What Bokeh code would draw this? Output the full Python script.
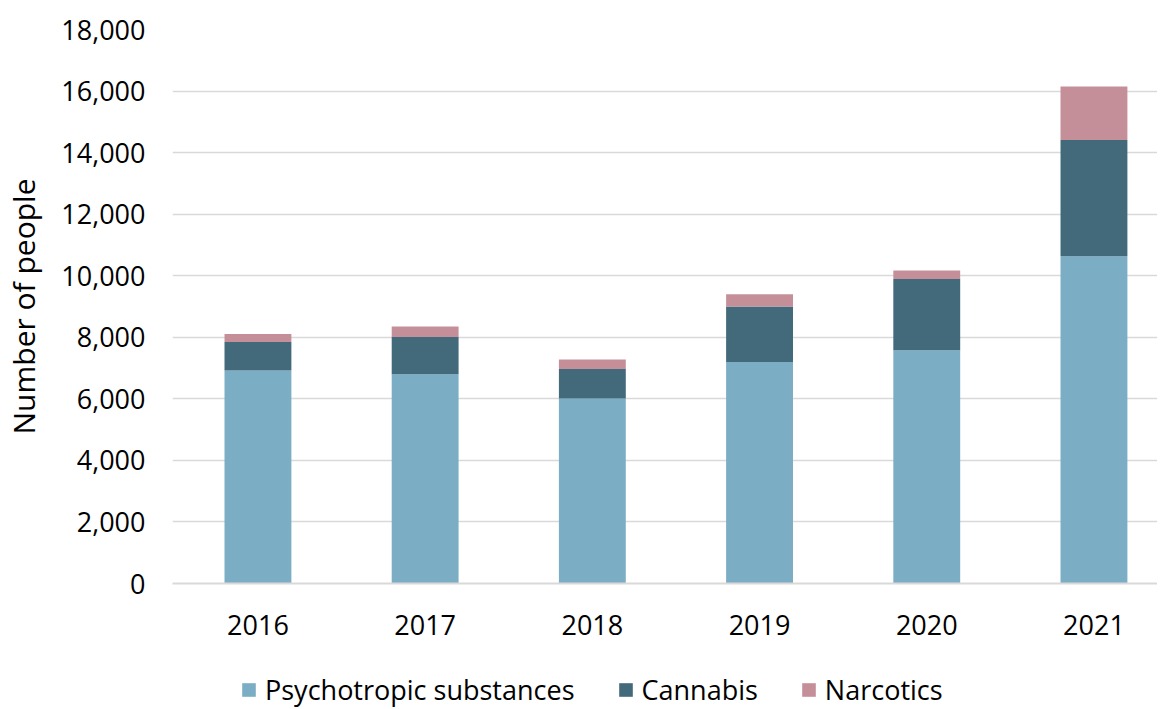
from bokeh.plotting import figure
from bokeh.layouts import column
from bokeh.models import Range1d, FixedTicker, NumeralTickFormatter, SingleIntervalTicker, Legend, LegendItem, ColumnDataSource
from bokeh.embed import file_html
from bokeh.resources import INLINE

years = [2016, 2017, 2018, 2019, 2020, 2021]
psychotropic = [6920, 6800, 6010, 7200, 7580, 10630]
cannabis = [930, 1210, 960, 1800, 2315, 3780]
narcotics = [260, 340, 305, 400, 275, 1740]
series = ["Psychotropic substances", "Cannabis", "Narcotics"]
colors = ["#7BADC5", "#426A7A", "#C58F99"]

source = ColumnDataSource(dict(year=years, **{series[0]: psychotropic, series[1]: cannabis, series[2]: narcotics}))

FONT = "Open Sans"

p = figure(frame_width=985, frame_height=554, output_backend="svg", toolbar_location=None,
           x_range=Range1d(2015.489, 2021.380), y_range=Range1d(0, 18000),
           min_border_left=170, min_border_right=0, min_border_top=29, min_border_bottom=62)
p.outline_line_color = None
p.background_fill_color = "white"
p.border_fill_color = "white"

p.vbar_stack(series, x="year", width=0.4, color=colors, source=source, line_color=None)

p.yaxis.ticker = SingleIntervalTicker(interval=2000)
p.yaxis.formatter = NumeralTickFormatter(format="0,0")
p.xaxis.ticker = FixedTicker(ticks=years)

for ax in (p.xaxis[0], p.yaxis[0]):
    ax.major_tick_line_color = None
    ax.minor_tick_line_color = None
    ax.major_label_text_font = FONT
    ax.major_label_text_font_size = "27px"
    ax.major_label_text_color = "#000000"
p.yaxis.axis_line_color = None
p.xaxis.axis_line_color = "#D9D9D9"
p.xaxis.axis_line_width = 2
p.yaxis.major_label_standoff = 21
p.xaxis.major_label_standoff = 25
p.yaxis.axis_label = "Number of people"
p.yaxis.axis_label_text_font = FONT
p.yaxis.axis_label_text_font_size = "30px"
p.yaxis.axis_label_text_font_style = "normal"
p.yaxis.axis_label_text_color = "#000000"
p.yaxis.axis_label_standoff = 14

p.xgrid.grid_line_color = None
p.ygrid.grid_line_color = "#D9D9D9"
p.ygrid.grid_line_width = 1.5

# legend strip below the chart (same series, drawn out of view so only the legend shows)
pl = figure(width=1155, height=63, output_backend="svg", toolbar_location=None,
            x_axis_type=None, y_axis_type=None,
            x_range=Range1d(0, 1), y_range=Range1d(-2, -1),
            min_border_left=0, min_border_right=0, min_border_top=0, min_border_bottom=0)
pl.outline_line_color = None
pl.xgrid.visible = False
pl.ygrid.visible = False
lrs = pl.vbar_stack(series, x="year", width=0.4, color=colors, source=source, line_color=None)

legend = Legend(items=[LegendItem(label=s, renderers=[r]) for s, r in zip(series, lrs)],
                orientation="horizontal", location=(68, 0),
                label_text_font=FONT, label_text_font_size="27px", label_text_color="#000000",
                glyph_width=17, glyph_height=17, label_standoff=8, spacing=42,
                border_line_color=None, background_fill_alpha=0, padding=0, margin=0)
pl.add_layout(legend, "center")

layout = column(p, pl, spacing=0)
open("out.html", "w").write(file_html(layout, INLINE))
